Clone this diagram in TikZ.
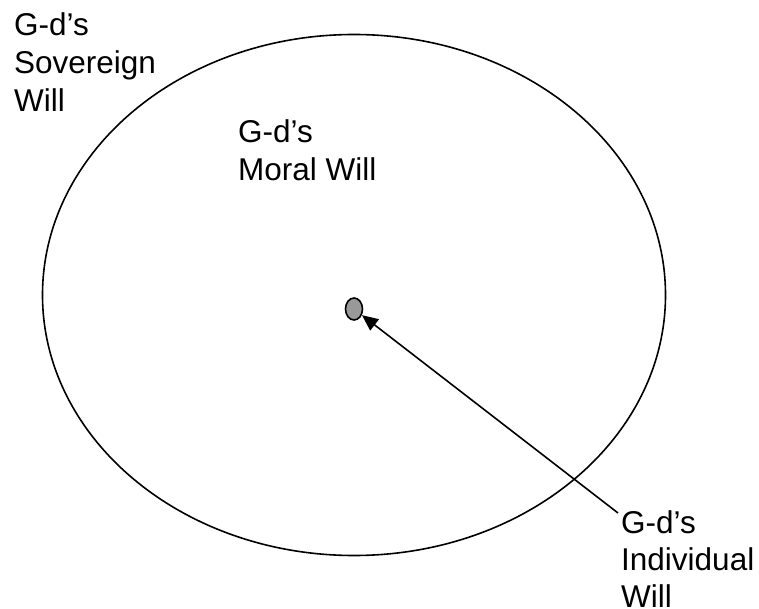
\documentclass[tikz,border=0pt]{standalone}
\usepackage{fontspec}
\setmainfont{Liberation Sans}
\usetikzlibrary{shapes.geometric,arrows.meta}
\begin{document}
\begin{tikzpicture}[x=1pt,y=-1pt,
  lbl/.style={anchor=north west,inner sep=0pt,align=left,font=\fontsize{31.5}{38}\selectfont},
  ring/.style={draw,line width=1.6pt},
  arr/.style={line width=1.6pt,-{Triangle[length=16pt,width=14pt]}}]
\useasboundingbox (0,0) rectangle (759,609);
\node[ring,ellipse,minimum width=623pt,minimum height=521pt,inner sep=0pt] (outer) at (354,295) {};
\node[ring,ellipse,fill=black!40,minimum width=17pt,minimum height=22pt,inner sep=0pt] (dot) at (354,309) {};
\node[lbl] (sov) at (14,12) {G-d’s\\Sovereign\\Will};
\node[lbl] (moral) at (238,119) {G-d’s\\Moral Will};
\node[lbl,font=\fontsize{31.5}{37}\selectfont] (indiv) at (621,510) {G-d’s\\Individual\\Will};
\coordinate (start) at (618,513);
\draw[arr] (start) -- (dot);
\end{tikzpicture}
\end{document}
